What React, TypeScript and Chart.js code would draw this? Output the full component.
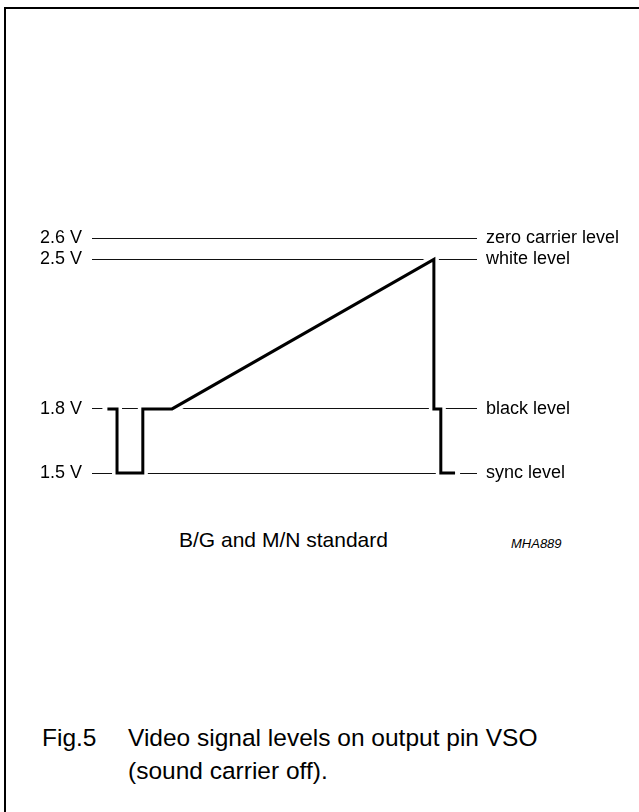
import React, { useEffect, useRef } from 'react';
import { Chart, registerables } from 'chart.js';

Chart.register(...registerables);

// Reference levels (volts) and their labels
const levelValues = [2.6, 2.5, 1.8, 1.5];
const levelVoltLabels = ['2.6 V', '2.5 V', '1.8 V', '1.5 V'];
const levelNames = ['zero carrier level', 'white level', 'black level', 'sync level'];

// Video signal waveform (time in arbitrary units 0..100, level in volts)
const signalTime = [4, 6.5, 6.5, 13.2, 13.2, 20.8, 88.8, 88.8, 90.6, 90.6, 94.3];
const signalVolts = [1.8, 1.8, 1.5, 1.5, 1.8, 1.8, 2.5, 1.8, 1.8, 1.5, 1.5];

const timeMin = 0;
const timeMax = 100;
const voltMin = 1.5;
const voltMax = 2.6;

const FONT = '"Liberation Sans", Arial, Helvetica, sans-serif';

export default function App() {
  const canvasRef = useRef<HTMLCanvasElement | null>(null);

  useEffect(() => {
    if (!canvasRef.current) return;
    const points = signalTime.map((t, i) => ({ x: t, y: signalVolts[i] }));
    const setTicks = (scale: any) => {
      scale.ticks = levelValues.map((v) => ({ value: v }));
    };
    const chart = new Chart(canvasRef.current, {
      type: 'line',
      data: {
        datasets: [
          {
            label: 'signal',
            data: points,
            borderColor: '#000',
            borderWidth: 3,
            borderJoinStyle: 'miter',
            borderCapStyle: 'butt',
            pointRadius: 0,
            tension: 0,
            fill: false,
            clip: false as any,
            order: 0,
          },
          {
            label: 'halo',
            data: points,
            borderColor: '#fff',
            borderWidth: 10,
            borderJoinStyle: 'miter',
            borderCapStyle: 'square',
            pointRadius: 0,
            tension: 0,
            fill: false,
            clip: false as any,
            order: 1,
          },
        ],
      },
      options: {
        animation: false,
        responsive: true,
        maintainAspectRatio: false,
        layout: { padding: { top: 38, bottom: 27, left: 0, right: 0 } },
        plugins: {
          legend: { display: false },
          tooltip: { enabled: false },
        },
        scales: {
          x: {
            type: 'linear',
            min: timeMin,
            max: timeMax,
            display: false,
          },
          y: {
            type: 'linear',
            position: 'left',
            min: voltMin,
            max: voltMax,
            afterBuildTicks: setTicks,
            afterFit: (s: any) => {
              s.width = 92;
            },
            border: { display: false },
            grid: { color: '#111', lineWidth: 1, drawTicks: false },
            ticks: {
              padding: 10,
              color: '#000',
              font: { family: FONT, size: 18 },
              callback: (v: any) => {
                const i = levelValues.indexOf(Number(v));
                return i >= 0 ? levelVoltLabels[i] : '';
              },
            },
          },
          y2: {
            type: 'linear',
            position: 'right',
            min: voltMin,
            max: voltMax,
            afterBuildTicks: setTicks,
            afterFit: (s: any) => {
              s.width = 162;
            },
            border: { display: false },
            grid: { display: false, drawTicks: false },
            ticks: {
              padding: 9,
              color: '#000',
              font: { family: FONT, size: 18 },
              callback: (v: any) => {
                const i = levelValues.indexOf(Number(v));
                return i >= 0 ? levelNames[i] : '';
              },
            },
          },
        },
      } as any,
    });
    return () => chart.destroy();
  }, []);

  const text = (content: string, left: number, top: number, size: number, extra: any = {}) => (
    <div
      style={{
        position: 'absolute',
        left,
        top,
        fontSize: size,
        lineHeight: `${size}px`,
        whiteSpace: 'nowrap',
        color: '#000',
        ...extra,
      }}
    >
      {content}
    </div>
  );

  return (
    <div
      style={{
        position: 'fixed',
        left: 0,
        top: 0,
        width: 639,
        height: 812,
        overflow: 'hidden',
        background: '#fff',
        fontFamily: FONT,
      }}
    >
      <div
        style={{
          position: 'absolute',
          left: 4,
          top: 7,
          width: 800,
          height: 1000,
          borderTop: '2px solid #000',
          borderLeft: '2px solid #000',
        }}
      />
      <div style={{ position: 'absolute', left: 0, top: 200, width: 639, height: 300 }}>
        <canvas ref={canvasRef} />
      </div>
      {text('B/G and M/N standard', 179, 529, 21)}
      {text('MHA889', 511, 537, 13, { fontStyle: 'italic' })}
      {text('Fig.5', 42, 726, 24.5)}
      {text('Video signal levels on output pin VSO', 128, 726, 24.5)}
      {text('(sound carrier off).', 128, 759, 24.5)}
    </div>
  );
}
